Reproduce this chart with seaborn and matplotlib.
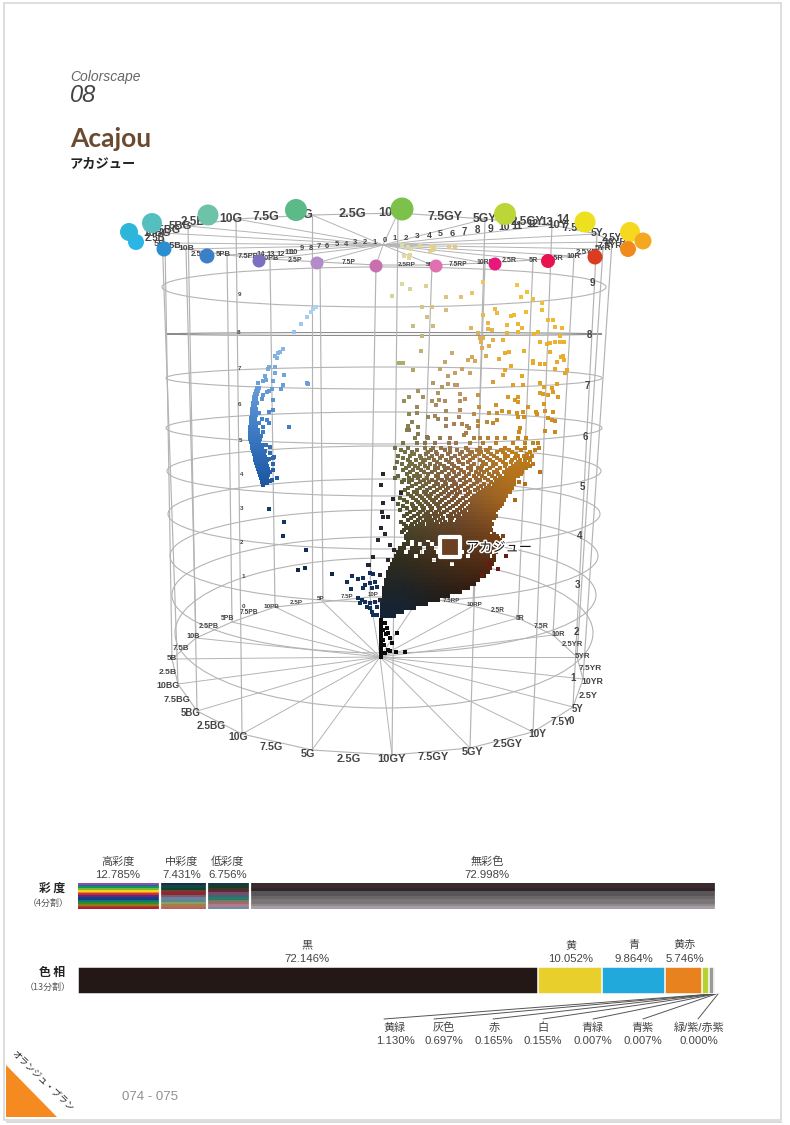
import numpy as np
import pandas as pd
import matplotlib
matplotlib.use("Agg")
import matplotlib.pyplot as plt
import matplotlib.patheffects as pe
from matplotlib.colors import to_rgb, to_hex
from matplotlib.patches import Ellipse, Polygon, Rectangle
import seaborn as sns

# bars
chroma_names = ["高彩度", "中彩度", "低彩度", "無彩色"]
chroma_pct = [12.785, 7.431, 6.756, 72.998]
hue_names = ["黒", "黄", "青", "黄赤", "黄緑", "灰色", "赤", "白", "青緑", "青紫", "緑/紫/赤紫"]
hue_pct = [72.146, 10.052, 9.864, 5.746, 1.130, 0.697, 0.165, 0.155, 0.007, 0.007, 0.000]
hue_cols = ["#231815", "#e8cf2b", "#21a9dc", "#e8821e", "#b5d233", "#9a9a9a", "#c0392b", "#dddddd", "#2a9a80", "#3a5aa0", "#8a5aa0"]

stripes_high = ["#8f4fa6", "#2a5fa8", "#0a9a58", "#7ab53a", "#f5d21a", "#f0861e", "#d42a34", "#5a2a80", "#1a3a8c", "#123a80", "#0a7a70", "#2f8a30", "#8f7a18", "#a04a20", "#b41e30"]
stripes_mid = ["#1c2a4c", "#0e4a40", "#12403a", "#7a3a28", "#8a2a30", "#7a5a70", "#6a80a0", "#5a8a8a", "#8aa060", "#a87a50", "#c0605a"]
stripes_low = ["#123a4a", "#203a28", "#3a3a22", "#5a2a3a", "#7a4a6a", "#3a6a6a", "#2a7a70", "#7a7a60", "#a06a6a", "#b07a90", "#6a90a8"]
stripes_none = ["#3a2a2e", "#3a2a2e", "#2f2528", "#5a5558", "#5a5558", "#6a6668", "#7a7678", "#7a7678", "#8f8a8c", "#a89ea8"]

# hue wheel, read from the page
hue_steps = ["5B", "2.5B", "10BG", "7.5BG", "5BG", "2.5BG", "10G", "7.5G", "5G", "2.5G", "10GY", "7.5GY", "5GY", "2.5GY",
             "10Y", "7.5Y", "5Y", "2.5Y", "10YR", "7.5YR", "5YR", "2.5YR", "10R", "7.5R", "5R", "2.5R", "10RP", "7.5RP",
             "5RP", "2.5RP", "10P", "7.5P", "5P", "2.5P", "10PB", "7.5PB", "5PB", "2.5PB", "10B", "7.5B"]
top_lx = [160, 155, 157, 165, 180, 198, 231, 266, 305, 352, 395, 445, 485, 527, 558, 574, 597, 612, 615, 610, 603, 587, 574, 556, 533, 509, 485, 458, 432, 407, 376, 349, 320, 295, 270, 248, 223, 202, 186, 172]
top_ly = [243, 238, 233, 230, 226, 222, 219, 217, 215, 214, 213, 217, 219, 222, 225, 228, 233, 238, 242, 246, 249, 253, 256, 258, 260, 261, 263, 264, 265, 265, 265, 263, 262, 261, 259, 257, 255, 254, 249, 246]
low_lx = [172, 168, 168, 177, 191, 211, 238, 271, 308, 349, 392, 433, 473, 508, 537, 561, 578, 588, 592, 590, 583, 572, 558, 541, 520, 498, 475, 451, 426, 400, 373, 347, 321, 296, 272, 249, 228, 209, 193, 181]
low_ly = [659, 672, 686, 699, 713, 726, 737, 747, 754, 759, 759, 757, 752, 744, 734, 722, 709, 696, 682, 669, 657, 645, 635, 626, 618, 611, 605, 601, 597, 595, 595, 597, 599, 602, 606, 612, 619, 627, 637, 648]

# vertices for every second hue step, same order starting from 5B
rim_low_x = [172, 178, 197, 242, 312, 392, 470, 533, 573, 583, 577, 553, 518, 473, 420, 370, 323, 275, 232, 196]
rim_low_y = [659, 684, 711, 734, 750, 755, 748, 732, 707, 679, 657, 635, 618, 606, 597, 597, 602, 607, 622, 638]
rim_top_x = [165, 162, 188, 236, 312, 398, 485, 552, 597, 612, 603, 574, 533, 485, 432, 376, 320, 270, 227, 186]
rim_top_y = [243, 233, 226, 219, 215, 213, 219, 225, 234, 242, 249, 256, 260, 263, 265, 265, 262, 259, 255, 249]
dot_x = [136, 129, 152, 208, 296, 402, 505, 585, 630, 643, 628, 595, 548, 495, 436, 376, 317, 259, 207, 164]
dot_y = [242, 232, 223, 215, 210, 209, 214, 222, 232, 241, 249, 257, 261, 264, 266, 266, 263, 261, 256, 249]
dot_r = [8, 9, 10, 10.5, 11, 11.5, 11, 10.5, 10, 8.5, 8, 7.5, 7, 6.5, 6.5, 6.5, 6.5, 6.5, 7.5, 7.5]
dot_cols = ["#29b6e6", "#2db5da", "#55bfbf", "#6cc3a8", "#5cba88", "#7cc24a", "#bcd637", "#ece01f", "#f5d81f", "#f4a81f", "#f08a1c", "#d93c20", "#e8124f", "#e8187a", "#e070b0", "#c86fb0", "#b58ac8", "#7a6fc0", "#3a7fc8", "#2a8fd0"]

# value rings
ring_value = [1, 2, 3, 4, 5, 6, 7, 8, 9]
ring_cy = [633, 595, 556, 514, 471, 428, 378, 334, 287]
ring_ry = [75, 58, 46, 35, 25, 16, 11, 1.5, 20]
ring_rx = [209, 212, 214, 216, 217, 218, 218, 218, 222]
value_right_x = [571, 573, 576, 577, 580, 582, 585, 587, 589, 592]
value_right_y = [721, 678, 632, 585, 536, 487, 437, 386, 335, 283]
value_left_x = [243, 243, 242, 242, 242, 241, 240, 239, 239, 239]
value_left_y = [607, 577, 543, 509, 475, 440, 404, 368, 332, 295]

chroma_right_x = [395, 406, 417, 429, 440, 452, 464, 477, 490, 504, 517, 532, 547, 563]
chroma_right_y = [239, 238, 237, 236, 234, 233, 232, 230, 229, 227, 226, 224, 222, 220]
chroma_left_x = [375, 365, 355, 346, 337, 327, 319, 311, 302, 294, 289, 281, 271, 261]
chroma_left_y = [242, 243, 243, 244, 245, 246, 247, 248, 249, 252, 253, 254, 254, 254]

# scattered warm colours, upper part of the solid
warm_x = [402, 408, 411, 420, 431, 434, 430, 433, 449, 455, 410, 409, 404, 402, 410, 426, 392, 422, 432, 446, 461, 472, 446, 427, 413, 433, 422, 421, 452, 399, 403, 413, 440, 445,
          483, 517, 527, 521, 533, 542, 542, 495, 497, 514, 511, 526, 483, 488, 507, 518, 548, 553, 522, 518, 507, 471, 488, 492, 478, 480, 483, 555, 562, 538, 534, 560, 540, 547, 550, 555, 560, 564,
          503, 493, 481, 489, 482, 524, 550, 505, 509, 486, 563, 561, 564, 557, 533, 533, 540, 545, 499, 472, 468, 475, 511, 555, 567, 565, 505, 462, 470, 503, 522, 448, 455, 540, 557, 513, 523, 493,
          457, 455, 448, 442, 433, 438, 460, 478, 544, 552, 553, 540, 543, 548, 558, 508, 518, 515, 518, 544, 528, 496, 423, 418, 409, 404, 432, 439, 445, 460, 465, 436, 446, 460, 474, 479, 489, 497,
          502, 509, 517, 523, 536, 537, 545, 553, 428, 435, 438, 446, 459, 478, 497, 487, 493, 518, 524, 548, 552, 555, 417, 409, 417, 412, 408, 418, 407, 409, 446, 454, 462, 467, 478, 469, 520, 466, 464, 555, 545, 519, 418, 427]
warm_y = [245, 247, 249, 246, 246, 248, 252, 250, 247, 247, 255, 258, 256, 284, 289, 286, 296, 307, 307, 297, 297, 293, 310, 317, 326, 326, 336, 351, 353, 363, 363, 370, 369, 362,
          282, 285, 292, 297, 299, 303, 310, 309, 313, 315, 316, 312, 315, 323, 325, 324, 320, 320, 328, 332, 333, 328, 329, 330, 333, 338, 338, 327, 328, 332, 334, 336, 342, 344, 343, 342, 342, 342,
          340, 340, 342, 346, 348, 351, 352, 353, 352, 356, 356, 357, 360, 362, 361, 363, 364, 364, 359, 357, 360, 361, 366, 369, 370, 373, 370, 369, 373, 375, 376, 376, 373, 383, 384, 385, 385, 382,
          385, 385, 384, 387, 383, 393, 394, 395, 387, 388, 392, 393, 394, 395, 397, 397, 397, 400, 402, 404, 407, 405, 397, 391, 397, 401, 401, 400, 401, 401, 399, 405, 411, 410, 414, 407, 413, 413,
          411, 412, 413, 412, 412, 414, 411, 412, 417, 416, 419, 419, 417, 421, 420, 422, 423, 417, 417, 418, 420, 421, 413, 414, 407, 422, 426, 427, 430, 430, 426, 424, 424, 426, 426, 428, 428, 433, 435, 432, 431, 432, 434, 437]

# middle of the cloud: rows of squares, row height -> x positions
cloud_rows = {
    438: [415, 428, 440, 450, 474, 480, 488, 497, 505, 518, 526],
    443: [403, 417, 425, 435, 449, 456, 470, 483, 496, 513, 525, 533, 538],
    448: [395, 408, 425, 433, 441, 450, 466, 480, 490, 505, 517, 525, 539],
    452: [405, 412, 428, 436, 450, 462, 472, 481, 488, 497, 503, 512, 530],
    456: [398, 410, 420, 432, 442, 455, 466, 475, 484, 494, 508, 518, 524, 532],
    460: [408, 416, 425, 434, 446, 458, 470, 480, 490, 500, 512, 520, 525, 530],
    464: [402, 412, 420, 430, 440, 452, 463, 474, 486, 496, 506, 516, 520, 524, 528, 533],
    468: [395, 406, 418, 428, 438, 448, 458, 468, 478, 490, 500, 510, 514, 518, 522, 526],
    472: [410, 424, 432, 442, 454, 464, 476, 484, 494, 504, 510, 514, 518, 522, 540],
    476: [398, 414, 420, 436, 446, 456, 466, 474, 482, 492, 500, 506, 510, 514, 518],
    480: [404, 412, 424, 432, 442, 450, 460, 470, 480, 488, 498, 502, 506, 510, 514],
    484: [416, 426, 438, 446, 456, 464, 474, 484, 494, 498, 502, 506, 510, 514, 525],
    488: [408, 420, 430, 440, 448, 458, 468, 478, 486, 492, 496, 500, 504, 508, 512],
    492: [401, 414, 424, 434, 444, 452, 460, 470, 480, 486, 490, 494, 498, 502, 506, 510],
    496: [411, 420, 428, 438, 448, 456, 466, 474, 482, 486, 490, 494, 498, 502, 506],
    500: [404, 416, 424, 432, 442, 452, 460, 470, 476, 480, 484, 488, 492, 496, 500, 504, 515],
    504: [398, 412, 420, 428, 436, 446, 456, 464, 472, 478, 482, 486, 490, 494, 498, 502],
    508: [407, 416, 424, 432, 440, 450, 460, 468, 474, 478, 482, 486, 490, 494, 498],
    512: [410, 420, 428, 436, 444, 454, 462, 470, 474, 478, 482, 486, 490, 494],
    516: [404, 414, 424, 430, 438, 448, 456, 464, 468, 472, 476, 480, 484, 488, 492, 496],
    520: [408, 418, 426, 432, 440, 450, 458, 462, 466, 470, 474, 478, 482, 486, 490],
    524: [404, 412, 420, 428, 434, 442, 448, 454, 460, 464, 468, 472, 476, 480, 484, 488, 492],
    528: [408, 414, 420, 426, 432, 436, 440, 446, 452, 458, 462, 466, 470, 474, 478, 482, 486, 490],
    532: [402, 410, 416, 422, 428, 432, 436, 440, 444, 450, 456, 460, 464, 468, 472, 476, 480, 484, 488],
    536: [406, 412, 418, 422, 426, 430, 434, 438, 442, 446, 450, 454, 458, 462, 466, 470, 474, 478, 482, 486, 490, 497, 503],
    540: [408, 416, 420, 424, 432, 436, 440, 444, 448, 452, 456, 460, 464, 468, 472, 476, 480, 484, 488, 492, 496, 500],
    544: [404, 408, 416, 424, 428, 436, 440, 448, 452, 460, 464, 468, 472, 476, 480, 484, 488, 492, 496, 500],
    548: [400, 404, 412, 416, 420, 428, 432, 444, 448, 452, 456, 464, 468, 472, 476, 480, 484, 488, 492, 496, 498],
    552: [398, 402, 410, 414, 418, 426, 430, 434, 442, 446, 450, 454, 458, 466, 470, 474, 478, 482, 486, 490, 496],
    556: [396, 400, 404, 408, 412, 420, 424, 428, 432, 436, 440, 444, 448, 452, 456, 460, 464, 472, 476, 480, 484, 488, 494],
    560: [394, 398, 402, 406, 410, 414, 418, 422, 426, 430, 438, 442, 446, 450, 454, 458, 462, 466, 470, 474, 478, 482, 486, 490, 494],
    564: [392, 396, 400, 404, 408, 412, 416, 420, 424, 428, 432, 436, 440, 444, 448, 456, 460, 464, 468, 472, 476, 480, 484, 488, 492],
    568: [390, 394, 398, 402, 406, 410, 414, 418, 422, 426, 430, 434, 438, 442, 446, 450, 454, 458, 462, 466, 470, 474, 478, 482, 486, 490],
    572: [388, 392, 396, 400, 404, 408, 412, 416, 420, 424, 428, 432, 436, 440, 444, 448, 452, 456, 460, 464, 468, 472, 476, 480, 484, 488],
    576: [388, 392, 396, 400, 404, 408, 412, 416, 420, 424, 428, 432, 436, 440, 444, 448, 452, 456, 460, 464, 468, 472, 476, 480, 484],
    580: [386, 390, 394, 398, 402, 406, 410, 414, 418, 422, 426, 430, 434, 438, 442, 446, 450, 454, 458, 462, 466, 470, 474, 478],
    584: [386, 390, 394, 398, 402, 406, 410, 414, 418, 422, 426, 430, 434, 438, 442, 446, 450, 454, 458, 462, 466, 470, 474],
    588: [384, 388, 392, 396, 400, 404, 408, 412, 416, 420, 424, 428, 432, 436, 440, 444, 448, 452, 456, 460, 464, 468],
    592: [384, 388, 392, 396, 400, 404, 408, 412, 416, 420, 424, 428, 432, 436, 440, 444, 448, 452, 456, 460],
    596: [384, 388, 392, 396, 400, 404, 408, 412, 416, 420, 424, 428, 432, 436, 440, 444, 448],
    600: [382, 386, 390, 394, 398, 402, 406, 410, 414, 418, 422, 426, 430, 434, 438],
    604: [382, 386, 390, 394, 398, 402, 406, 410, 414, 418, 422, 426],
    608: [382, 386, 390, 394, 398, 402, 406, 410, 414],
    612: [382, 386, 390, 394, 398, 402],
    616: [382, 386, 390, 394],
}
# squares lying between those rows
cloud_rows_between = {
    450: [401, 417, 431, 445, 457, 468, 477, 486, 501, 509, 521, 535],
    454: [414, 426, 437, 448, 460, 470, 479, 491, 505, 516, 527],
    458: [403, 421, 429, 440, 451, 463, 473, 487, 497, 505, 515, 528],
    462: [397, 410, 423, 437, 449, 459, 468, 483, 493, 503, 511, 518],
    466: [409, 415, 425, 435, 444, 454, 471, 482, 493, 505, 513, 530],
    470: [403, 413, 421, 435, 445, 452, 461, 471, 481, 487, 497, 507, 512, 516],
    474: [407, 417, 428, 438, 449, 459, 469, 479, 489, 498, 507, 512, 521],
    478: [395, 409, 418, 427, 438, 447, 453, 464, 476, 485, 495, 504, 508, 512],
    482: [402, 409, 420, 429, 436, 445, 454, 466, 477, 491, 496, 504, 508, 512, 519],
    486: [412, 423, 434, 443, 452, 461, 471, 481, 489, 495, 499, 503, 507, 511],
    490: [405, 417, 427, 437, 446, 455, 465, 475, 483, 488, 492, 496, 500, 504, 508],
    494: [408, 417, 426, 431, 441, 449, 457, 468, 478, 484, 488, 492, 496, 500, 504],
    498: [400, 413, 422, 430, 436, 445, 454, 463, 472, 478, 482, 486, 490, 494, 498, 502],
    502: [407, 418, 426, 434, 440, 449, 458, 466, 474, 480, 484, 488, 492, 496, 500],
    506: [403, 413, 422, 430, 438, 444, 453, 462, 470, 476, 480, 484, 488, 492, 496, 500],
    510: [400, 414, 423, 431, 439, 447, 457, 465, 471, 476, 480, 484, 488, 492, 496],
    514: [407, 418, 426, 434, 441, 451, 459, 466, 470, 474, 478, 482, 486, 490, 494],
    518: [411, 420, 428, 435, 443, 452, 460, 464, 468, 472, 476, 480, 484, 488, 494],
    522: [401, 415, 423, 430, 437, 445, 451, 457, 462, 466, 470, 474, 478, 482, 486, 490],
    526: [406, 411, 417, 423, 430, 438, 444, 450, 456, 460, 464, 468, 472, 476, 480, 484, 488],
    530: [404, 412, 418, 424, 430, 434, 438, 443, 448, 454, 458, 462, 466, 470, 474, 478, 482, 486, 491],
    534: [408, 414, 420, 424, 428, 432, 436, 440, 444, 448, 452, 456, 460, 464, 468, 472, 476, 480, 484, 488, 494],
    538: [406, 410, 414, 418, 422, 426, 430, 434, 438, 442, 446, 450, 454, 458, 462, 466, 470, 474, 478, 482, 486, 490, 494, 498],
}

# dark stragglers on the left of the cloud, and the black stem
dark_x = [383, 381, 383, 393, 401, 382, 388, 383, 381, 385, 378, 390, 394, 373, 388, 368, 369, 352, 347, 358, 363, 370, 373, 351, 365, 363, 370, 375, 377, 380, 372, 358, 362, 365, 360, 367, 370, 372, 377, 373, 377, 380, 375, 370]
dark_y = [474, 485, 503, 499, 493, 512, 517, 517, 528, 534, 540, 545, 550, 557, 560, 565, 565, 576, 582, 579, 578, 573, 574, 589, 585, 588, 583, 582, 587, 575, 588, 598, 600, 602, 603, 607, 608, 612, 607, 615, 615, 600, 602, 603]
red_x = [506, 498, 489, 489, 482]
red_y = [556, 569, 563, 567, 575]
stem_x = [381, 381, 381, 381, 381, 381, 381, 381, 381, 381, 381, 381, 381, 381, 383, 383, 385, 387, 388, 390, 392, 397, 385, 390, 396, 405, 381, 386, 384, 388]
stem_y = [620, 623, 626, 629, 632, 635, 638, 641, 644, 647, 650, 653, 655, 657, 640, 630, 623, 628, 633, 638, 643, 633, 653, 651, 652, 652, 657, 634, 645, 650]

# blue arm
blue_rows = {
    388: [257, 259], 391: [256, 258], 394: [255, 257], 397: [254, 256], 400: [254, 256],
    403: [253, 255, 257], 406: [253, 255], 409: [252, 254, 256], 412: [252, 254, 256], 415: [252, 254, 256],
    418: [251, 253, 255], 421: [251, 253, 255], 424: [251, 253, 255], 427: [250, 252, 254, 256],
    430: [250, 252, 254, 256, 258], 433: [250, 252, 254, 256, 258], 436: [250, 252, 254, 256, 258, 261],
    439: [250, 252, 254, 256, 258, 260], 442: [251, 253, 255, 257, 259], 445: [252, 254, 256, 258, 260, 263, 266],
    448: [252, 254, 256, 258, 260, 262], 451: [253, 255, 257, 259, 261, 263, 265], 454: [254, 256, 258, 260, 262, 264],
    457: [255, 257, 259, 261, 263, 265], 460: [255, 257, 259, 261, 263, 265, 267], 463: [256, 258, 260, 262, 264, 266],
    466: [257, 259, 261, 263, 265, 267], 469: [258, 260, 262, 264, 266, 268], 472: [259, 261, 263, 265, 267, 269],
    475: [260, 262, 264, 266, 268], 478: [261, 263, 265, 267], 481: [263, 265, 267, 270],
}
blue_x = [316, 313, 311, 307, 301, 294, 283, 280, 278, 275, 277, 269, 268, 275, 275, 284, 265, 263, 266, 273, 258, 283, 281, 307, 308, 272, 269, 267, 263, 262, 273, 273, 269, 259, 262, 267, 269, 259, 263, 263, 289,
          270, 273, 270, 274, 269, 273, 273, 270, 277, 272, 267, 262, 263, 269, 284, 283, 306, 298, 305, 332]
blue_y = [307, 309, 312, 317, 324, 332, 349, 352, 353, 356, 358, 367, 369, 367, 373, 375, 376, 381, 380, 381, 383, 385, 389, 383, 384, 389, 391, 392, 395, 399, 400, 410, 412, 413, 419, 420, 423, 423, 427, 432, 427,
          447, 458, 453, 457, 459, 464, 470, 472, 478, 480, 483, 482, 485, 509, 522, 536, 550, 570, 568, 574]

plt.rcParams["figure.dpi"] = 100
sns.set_theme(style="white")
plt.rcParams["font.family"] = ["Liberation Sans", "Noto Sans CJK JP", "DejaVu Sans"]


def rows_to_frame(rows):
    return pd.DataFrame([(x, y) for y, xs in rows.items() for x in xs], columns=["x", "y"])


# colour of a warm square follows its height and how far it sits from the axis
anchor_y = [280, 370, 430, 500, 560, 590, 620]
anchor_low = ["#dcdca6", "#a8a868", "#7c7c50", "#5a5c34", "#2f2c1e", "#1c2428", "#12233a"]
anchor_mid = ["#e8c880", "#c8a070", "#a47e58", "#7a5434", "#4a2e18", "#2c1e14", "#1a1410"]
anchor_high = ["#f0c840", "#e8a828", "#c88a20", "#a8661a", "#5c2c10", "#3a1a0c", "#1a1410"]


def warm_colour(x, y):
    u = np.clip((x - 400) / 110, 0, 1)
    low = np.array([np.interp(y, anchor_y, [to_rgb(c)[i] for c in anchor_low]) for i in range(3)])
    mid = np.array([np.interp(y, anchor_y, [to_rgb(c)[i] for c in anchor_mid]) for i in range(3)])
    high = np.array([np.interp(y, anchor_y, [to_rgb(c)[i] for c in anchor_high]) for i in range(3)])
    if u < 0.5:
        col = low + (mid - low) * u * 2
    else:
        col = mid + (high - mid) * (u - 0.5) * 2
    return to_hex(col)


def blue_colour(y):
    stops = [300, 380, 430, 480, 510, 575]
    cols = ["#b4d8f0", "#6ea2da", "#3f7cc4", "#1f5aa6", "#123a6e", "#0e2748"]
    return to_hex([np.interp(y, stops, [to_rgb(c)[i] for c in cols]) for i in range(3)])


warm = pd.concat([pd.DataFrame({"x": warm_x, "y": warm_y}), rows_to_frame(cloud_rows), rows_to_frame(cloud_rows_between)], ignore_index=True)
warm["colour"] = [warm_colour(x, y) for x, y in zip(warm["x"], warm["y"])]
blue = pd.concat([pd.DataFrame({"x": blue_x, "y": blue_y}), rows_to_frame(blue_rows)], ignore_index=True)
blue["colour"] = [blue_colour(y) for y in blue["y"]]
dark = pd.DataFrame({"x": dark_x, "y": dark_y})
dark["colour"] = [("#12305a" if x < 378 and y > 570 else "#2a2630") for x, y in zip(dark_x, dark_y)]
reds = pd.DataFrame({"x": red_x, "y": red_y, "colour": "#6a1a12"})
stem = pd.DataFrame({"x": stem_x, "y": stem_y, "colour": "#0c0a0a"})

fig = plt.figure(figsize=(7.9, 11.25), dpi=100)
ax = fig.add_axes([0, 0, 1, 1])
ax.set_xlim(0, 790)
ax.set_ylim(1125, 0)
ax.axis("off")
ax.add_patch(Rectangle((6, 1121), 776, 2, fc="#dcdcdc", ec="none", zorder=0))
ax.add_patch(Rectangle((4, 3), 777, 1117, fc="white", ec="#d4d4d4", lw=1.1, zorder=0))

# title block
ax.text(70, 77, "Colorscape", fontsize=10, style="italic", color="#666666", va="center", family=["Liberation Sans"])
ax.text(70, 96, "08", fontsize=17, style="italic", color="#444444", va="center", family=["Liberation Sans"])
ax.text(70, 139, "Acajou", fontsize=19, color="#6b4a30", weight="bold", va="center", family=["Lato"])
ax.text(70, 164, "アカジュー", fontsize=9.5, color="#222222", weight="bold", va="center", family=["Noto Sans CJK JP"])

# wheel: rings, spokes, uprights
GRID = "#b4b4b4"
cx_bottom, cy_bottom = 380, 657
cx_top, cy_top = 383, 245
for v, cy, ry, rx in zip(ring_value, ring_cy, ring_ry, ring_rx):
    ax.add_patch(Ellipse((384, cy), 2 * rx, 2 * ry, fill=False, ec="#8c8c8c" if v == 8 else GRID, lw=0.8, zorder=1))
for lx, ly, tx, ty in zip(rim_low_x, rim_low_y, rim_top_x, rim_top_y):
    ax.plot([lx, tx], [ly, ty], color=GRID, lw=0.85, zorder=1)
    ax.plot([cx_bottom, lx], [cy_bottom, ly], color=GRID, lw=0.7, zorder=1)
    ax.plot([cx_top, tx], [cy_top, ty], color=GRID, lw=0.7, zorder=1)
ax.add_patch(Polygon(np.column_stack([rim_low_x, rim_low_y]), closed=True, fill=False, ec=GRID, lw=0.8, zorder=1))
ax.add_patch(Polygon(np.column_stack([rim_top_x, rim_top_y]), closed=True, fill=False, ec=GRID, lw=0.8, zorder=1))

# hue labels get smaller towards the far side
for name, x, y in zip(hue_steps, top_lx, top_ly):
    ax.text(x, y, name, fontsize=np.interp(y, [213, 268], [9.3, 4.4]), weight="bold", color="#444444", ha="center", va="center", zorder=2)
for name, x, y in zip(hue_steps, low_lx, low_ly):
    ax.text(x, y, name, fontsize=np.interp(y, [595, 760], [4.4, 8]), weight="bold", color="#444444", ha="center", va="center", zorder=2)
for i, (x, y) in enumerate(zip(chroma_right_x, chroma_right_y), 1):
    ax.text(x, y, str(i), fontsize=np.interp(i, [1, 14], [5.5, 8.5]), weight="bold", color="#444444", ha="center", va="center", zorder=2)
for i, (x, y) in enumerate(zip(chroma_left_x, chroma_left_y), 1):
    ax.text(x, y, str(i), fontsize=5.4, weight="bold", color="#444444", ha="center", va="center", zorder=2)
ax.text(385, 241, "0", fontsize=5.5, weight="bold", color="#444444", ha="center", va="center", zorder=2)
for i, (x, y) in enumerate(zip(value_right_x, value_right_y)):
    ax.text(x, y, str(i), fontsize=7, weight="bold", color="#444444", ha="center", va="center", zorder=2)
for i, (x, y) in enumerate(zip(value_left_x, value_left_y)):
    ax.text(x, y, str(i), fontsize=4.5, weight="bold", color="#444444", ha="center", va="center", zorder=2)

sns.scatterplot(x=dot_x, y=dot_y, hue=dot_cols, palette={c: c for c in dot_cols}, size=dot_r, sizes={r: (2 * r * 0.72) ** 2 for r in dot_r},
                linewidth=0, legend=False, ax=ax, zorder=3)

for part, size in ((warm, 8.5), (blue, 5.5), (dark, 7), (reds, 6), (stem, 12)):
    sns.scatterplot(data=part, x="x", y="y", hue="colour", palette={c: c for c in part["colour"].unique()}, marker="s", s=size,
                    linewidth=0, legend=False, ax=ax, zorder=4)
ax.set_xlim(0, 790)
ax.set_ylim(1125, 0)
ax.set_xlabel("")
ax.set_ylabel("")

# the Acajou marker
sns.scatterplot(x=[450], y=[547], marker="s", s=190, color="#6b4023", edgecolor="white", linewidth=3, legend=False, ax=ax, zorder=5)
ax.text(466, 548, "アカジュー", fontsize=9.5, color="#111111", va="center", family=["Noto Sans CJK JP"], zorder=5,
        path_effects=[pe.withStroke(linewidth=2.2, foreground="white")])

# chroma bar
ax_c = fig.add_axes([78 / 790, 1 - 909 / 1125, 638 / 790, 26 / 1125])
left = 0
for pct, stripes in zip(chroma_pct, [stripes_high, stripes_mid, stripes_low, stripes_none]):
    n = len(stripes)
    for i, col in enumerate(stripes):
        ax_c.barh((i + 0.5) / n, pct, left=left, height=1 / n, color=col, linewidth=0)
    left += pct
    ax_c.axvline(left, color="white", lw=1.6)
ax_c.set_xlim(0, 100)
ax_c.set_ylim(1, 0)
ax_c.axis("off")

# hue bar, stacked from the longest total down
ax_h = fig.add_axes([78 / 790, 1 - 993.5 / 1125, 638 / 790, 27 / 1125])
totals = np.cumsum(hue_pct)
for total, col in zip(totals[::-1], hue_cols[::-1]):
    sns.barplot(x=[total], y=["色相"], color=col, saturation=1, width=1, orient="h", edgecolor="white", linewidth=1.1, ax=ax_h)
ax_h.set_xlim(0, 100)
ax_h.axis("off")

# bar captions
label_col = "#444444"
chroma_lab_x = [118, 182, 228, 487]
for name, pct, x in zip(chroma_names, chroma_pct, chroma_lab_x):
    ax.text(x, 862, name, fontsize=8, ha="center", va="center", color=label_col)
    ax.text(x, 875, f"{pct:.3f}%", fontsize=8.2, ha="center", va="center", color=label_col)
upper_lab_x = [307, 571, 634, 685]
for name, pct, x in zip(hue_names[:4], hue_pct[:4], upper_lab_x):
    ax.text(x, 945, name, fontsize=8, ha="center", va="center", color=label_col)
    ax.text(x, 959, f"{pct:.3f}%", fontsize=8.2, ha="center", va="center", color=label_col)
lower_lab_x = [395, 444, 494, 543, 593, 643, 699]
lead_from_x = [384, 434, 493, 543, 593, 643, 698]
lead_to_x = [713, 713, 713, 714, 715, 716, 718]
for name, pct, x, x0, x1 in zip(hue_names[4:], hue_pct[4:], lower_lab_x, lead_from_x, lead_to_x):
    ax.plot([x0, x1], [1019, 994], color="#555555", lw=0.7, zorder=6)
    ax.text(x, 1028, name, fontsize=8, ha="center", va="center", color=label_col)
    ax.text(x, 1041, f"{pct:.3f}%", fontsize=8.2, ha="center", va="center", color=label_col)
ax.text(52, 888, "彩 度", fontsize=8.5, weight="bold", ha="center", va="center", color="#222222", family=["Noto Sans CJK JP"])
ax.text(48, 903, "（4分割）", fontsize=6.5, ha="center", va="center", color="#555555", family=["Noto Sans CJK JP"])
ax.text(52, 972, "色 相", fontsize=8.5, weight="bold", ha="center", va="center", color="#222222", family=["Noto Sans CJK JP"])
ax.text(48, 987, "（13分割）", fontsize=6.5, ha="center", va="center", color="#555555", family=["Noto Sans CJK JP"])

# page corner
ax.add_patch(Polygon([(6, 1065), (6, 1117), (57, 1117)], closed=True, fc="#f58a20", ec="none", zorder=2))
ax.text(42, 1081, "オランジュ・ブラン", fontsize=6.6, rotation=-44, rotation_mode="anchor", ha="center", va="center", color="#222222", family=["Noto Sans CJK JP"])
ax.text(150, 1097, "074 - 075", fontsize=9.5, color="#909090", ha="center", va="center")

fig.savefig("out.png", dpi=100)
